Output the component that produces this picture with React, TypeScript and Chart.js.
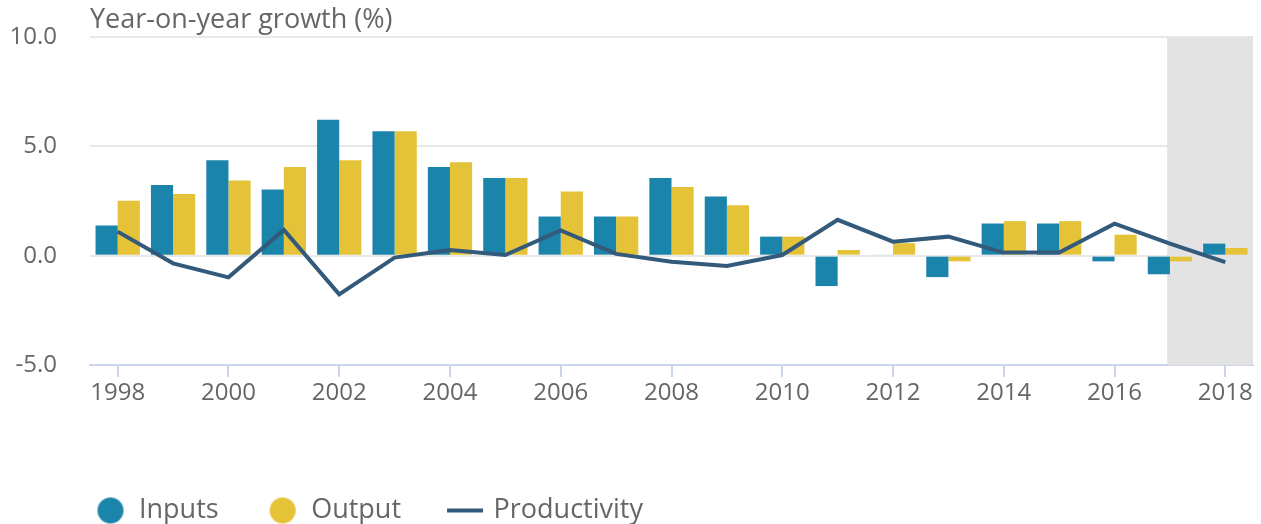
import React, { useEffect, useRef } from 'react';
import { Chart, registerables } from 'chart.js';

Chart.register(...registerables);

const years = ['1998', '1999', '2000', '2001', '2002', '2003', '2004', '2005', '2006', '2007', '2008', '2009', '2010', '2011', '2012', '2013', '2014', '2015', '2016', '2017', '2018'];
const inputs = [1.38, 3.23, 4.36, 3.03, 6.21, 5.69, 4.06, 3.55, 1.79, 1.79, 3.55, 2.71, 0.87, -1.39, 0.05, -0.98, 1.47, 1.47, -0.26, -0.85, 0.55];
const output = [2.51, 2.82, 3.44, 4.06, 4.36, 5.69, 4.27, 3.55, 2.94, 1.79, 3.14, 2.31, 0.87, 0.26, 0.57, -0.26, 1.58, 1.58, 0.96, -0.26, 0.35];
const productivity = [1.1, -0.35, -0.99, 1.18, -1.77, -0.09, 0.26, 0.03, 1.15, 0.08, -0.28, -0.47, 0.03, 1.64, 0.64, 0.87, 0.14, 0.14, 1.46, 0.55, -0.3];
const seriesNames = ['Inputs', 'Output', 'Productivity'];
const seriesColors = ['#1b84ab', '#e4c338', '#335a7a'];
const axisTitle = 'Year-on-year growth (%)';
const yMin = -5;
const yMax = 10;
const yStep = 5;
const forecastStartYear = '2017';

const FONT = '"Open Sans", sans-serif';
const TEXT = '#666666';

function makeMarker(kind: 'circle' | 'line', color: string): HTMLCanvasElement {
  const c = document.createElement('canvas');
  c.width = 60;
  c.height = 30;
  const g = c.getContext('2d')!;
  g.fillStyle = color;
  if (kind === 'circle') {
    g.beginPath();
    g.arc(26, 15, 13, 0, Math.PI * 2);
    g.fill();
  } else {
    g.fillRect(8, 13, 36, 4);
  }
  return c;
}

const bandPlugin = {
  id: 'forecastBand',
  beforeDatasetsDraw(chart: any) {
    const { ctx, chartArea, scales } = chart;
    const idx = years.indexOf(forecastStartYear);
    const start = scales.x.getPixelForValue(idx - 0.05);
    ctx.save();
    ctx.fillStyle = '#e3e3e3';
    ctx.fillRect(start, chartArea.top, chartArea.right - start, chartArea.bottom - chartArea.top);
    ctx.restore();
  },
};

const legendShiftPlugin = {
  id: 'legendShift',
  afterLayout(chart: any) {
    if (chart.legend) {
      chart.legend.left += 46.5;
    }
  },
};

export default function App() {
  const ref = useRef<HTMLCanvasElement | null>(null);

  useEffect(() => {
    if (!ref.current) return;
    const markers = [
      makeMarker('circle', seriesColors[0]),
      makeMarker('circle', seriesColors[1]),
      makeMarker('line', seriesColors[2]),
    ];
    const chart = new Chart(ref.current, {
      type: 'bar',
      data: {
        labels: years,
        datasets: [
          {
            type: 'bar',
            label: seriesNames[0],
            data: inputs,
            backgroundColor: seriesColors[0],
            borderWidth: 0,
            categoryPercentage: 0.8,
            barPercentage: 1.0,
            order: 1,
          },
          {
            type: 'bar',
            label: seriesNames[1],
            data: output,
            backgroundColor: seriesColors[1],
            borderWidth: 0,
            categoryPercentage: 0.8,
            barPercentage: 1.0,
            order: 1,
          },
          {
            type: 'line',
            label: seriesNames[2],
            data: productivity,
            borderColor: seriesColors[2],
            backgroundColor: seriesColors[2],
            borderWidth: 4,
            pointRadius: 0,
            tension: 0,
            fill: false,
            order: 0,
          } as any,
        ],
      },
      options: {
        animation: false,
        responsive: true,
        maintainAspectRatio: false,
        events: [],
        layout: { padding: { left: 0, right: 8, top: 0, bottom: -10 } },
        font: { family: FONT },
        scales: {
          x: {
            offset: true,
            grid: {
              display: true,
              offset: false,
              drawOnChartArea: false,
              drawTicks: true,
              tickLength: 12,
              color: '#ccd6eb',
              lineWidth: 2,
            },
            border: { display: true, color: '#ccd6eb', width: 2 },
            ticks: {
              autoSkip: false,
              maxRotation: 0,
              padding: 2,
              color: TEXT,
              font: { family: FONT, size: 24 },
              callback: (_v: any, i: number) => (i % 2 === 0 ? years[i] : null),
            },
            afterFit: (scale: any) => {
              scale.height = 75;
            },
          },
          y: {
            min: yMin,
            max: yMax,
            grid: {
              color: '#e8e8e8',
              lineWidth: 2,
              drawTicks: true,
              tickLength: 28,
              tickColor: 'rgba(0,0,0,0)',
            },
            border: { display: false },
            ticks: {
              stepSize: yStep,
              padding: 5,
              color: TEXT,
              font: { family: FONT, size: 24 },
              callback: (v: any) => Number(v).toFixed(1),
            },
            afterFit: (scale: any) => {
              scale.width = 90;
            },
          },
        },
        plugins: {
          tooltip: { enabled: false },
          title: {
            display: true,
            text: axisTitle,
            align: 'start',
            fullSize: false,
            color: TEXT,
            font: { family: FONT, size: 27, weight: 'normal' },
            padding: { top: 4, bottom: 0.6 },
          },
          legend: {
            display: true,
            position: 'bottom',
            align: 'start',
            labels: {
              usePointStyle: true,
              pointStyleWidth: 22,
              boxHeight: 27,
              padding: 57,
              color: TEXT,
              font: { family: FONT, size: 27 },
              generateLabels: (ch: any) =>
                ch.data.datasets.map((ds: any, i: number) => ({
                  text: ds.label,
                  fillStyle: seriesColors[i],
                  strokeStyle: seriesColors[i],
                  lineWidth: 0,
                  pointStyle: markers[i],
                  hidden: !ch.isDatasetVisible(i),
                  datasetIndex: i,
                  fontColor: TEXT,
                })),
            },
          },
        },
      } as any,
      plugins: [bandPlugin, legendShiftPlugin],
    });
    return () => chart.destroy();
  }, []);

  return (
    <div style={{ position: 'fixed', left: 0, top: 0, width: 1261, height: 524 }}>
      <canvas ref={ref} />
    </div>
  );
}
